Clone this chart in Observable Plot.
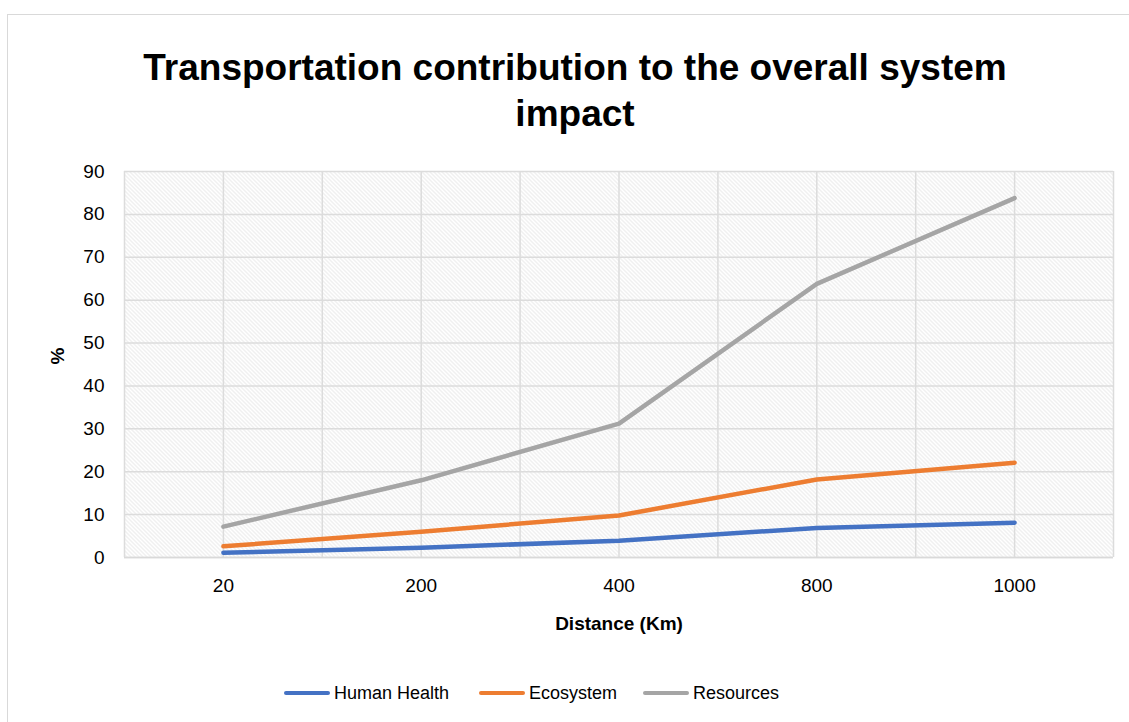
<!DOCTYPE html>
<html><head><meta charset="utf-8">
<script src="https://cdn.jsdelivr.net/npm/d3@7"></script>
<script src="https://cdn.jsdelivr.net/npm/@observablehq/plot@0.6"></script>
<style>
html,body{margin:0;padding:0;background:#fff;}
body{width:1129px;height:722px;position:relative;overflow:hidden;font-family:"Liberation Sans",Arial,sans-serif;}
#frame{position:absolute;left:7px;top:14px;width:1140px;height:720px;border:1.5px solid #d9d9d9;box-sizing:border-box;}
#title{position:absolute;left:0;top:45px;width:1150px;text-align:center;font-weight:bold;font-size:37px;line-height:46px;color:#000;}
#chart{position:absolute;left:0;top:150px;}
#legend{position:absolute;top:681px;left:0;width:1129px;height:24px;font-size:18px;color:#000;}
.li{position:absolute;top:0;display:flex;align-items:center;height:24px;}
.sw{display:inline-block;width:46px;height:4px;border-radius:2px;margin-right:4px;}
</style></head>
<body>
<div id="frame"></div>
<div id="title">Transportation contribution to the overall system<br>impact</div>
<div id="chart"></div>
<div id="legend"></div>
<script>
const distances = ["20", "200", "400", "800", "1000"];
const seriesNames = ["Human Health", "Ecosystem", "Resources"];
const humanHealth = [1.1, 2.3, 3.9, 6.9, 8.1];
const ecosystem = [2.6, 6.0, 9.8, 18.2, 22.1];
const resources = [7.2, 18.0, 31.2, 63.8, 83.8];
const colors = ["#4472C4", "#ED7D31", "#A5A5A5"];
const yTicks = [0, 10, 20, 30, 40, 50, 60, 70, 80, 90];

const seriesValues = [humanHealth, ecosystem, resources];
const data = [];
seriesNames.forEach((s, si) => distances.forEach((d, i) => data.push({series: s, i, value: seriesValues[si][i]})));
const xGrid = d3.range(-0.5, distances.length - 0.5 + 0.01, 0.5);

const plot = Plot.plot({
  width: 1129,
  height: 510,
  marginLeft: 124,
  marginRight: 16,
  marginTop: 21,
  marginBottom: 103,
  style: {fontFamily: "Liberation Sans, Arial, sans-serif", fontSize: "19px", color: "#000", background: "transparent"},
  x: {type: "linear", domain: [-0.5, distances.length - 0.5]},
  y: {domain: [0, 90]},
  color: {domain: seriesNames, range: colors},
  marks: [
    Plot.frame({fill: "url(#hatch)", stroke: "none"}),
    Plot.gridY(yTicks, {stroke: "#dcdcdc", strokeOpacity: 1, strokeWidth: 1.5}),
    Plot.ruleX(xGrid, {stroke: "#dcdcdc", strokeWidth: 1.5}),
    Plot.ruleY([0], {stroke: "#d9d9d9", strokeWidth: 1.5}),
    Plot.axisY({ticks: yTicks, tickSize: 0, tickPadding: 20, label: null, fontSize: 19}),
    Plot.axisX({ticks: d3.range(distances.length), tickFormat: i => distances[i], tickSize: 0, tickPadding: 21, label: null, fontSize: 19}),
    Plot.text(["%"], {frameAnchor: "left", dx: -67, rotate: -90, fontWeight: "bold", fontSize: 19}),
    Plot.text(["Distance (Km)"], {frameAnchor: "bottom", dy: 72, fontWeight: "bold", fontSize: 19}),
    Plot.line(data, {x: "i", y: "value", z: "series", stroke: "series", strokeWidth: 4.5, curve: "linear"})
  ]
});

// hatch pattern
const defs = d3.select(plot).insert("defs", ":first-child");
const pat = defs.append("pattern").attr("id", "hatch").attr("patternUnits", "userSpaceOnUse").attr("width", 4).attr("height", 4);
pat.append("rect").attr("width", 4).attr("height", 4).attr("fill", "#fff");
pat.append("path").attr("d", "M-1,-1L5,5M-1,3L1,5M3,-1L5,1").attr("stroke", "#e0e0e0").attr("stroke-width", 1);

document.getElementById("chart").appendChild(plot);

// legend
const legendX = [284, 479, 643];
const leg = document.getElementById("legend");
seriesNames.forEach((s, k) => {
  const it = document.createElement("div");
  it.className = "li";
  it.style.left = legendX[k] + "px";
  it.innerHTML = `<span class="sw" style="background:${colors[k]}"></span><span>${s}</span>`;
  leg.appendChild(it);
});
</script>
</body></html>
